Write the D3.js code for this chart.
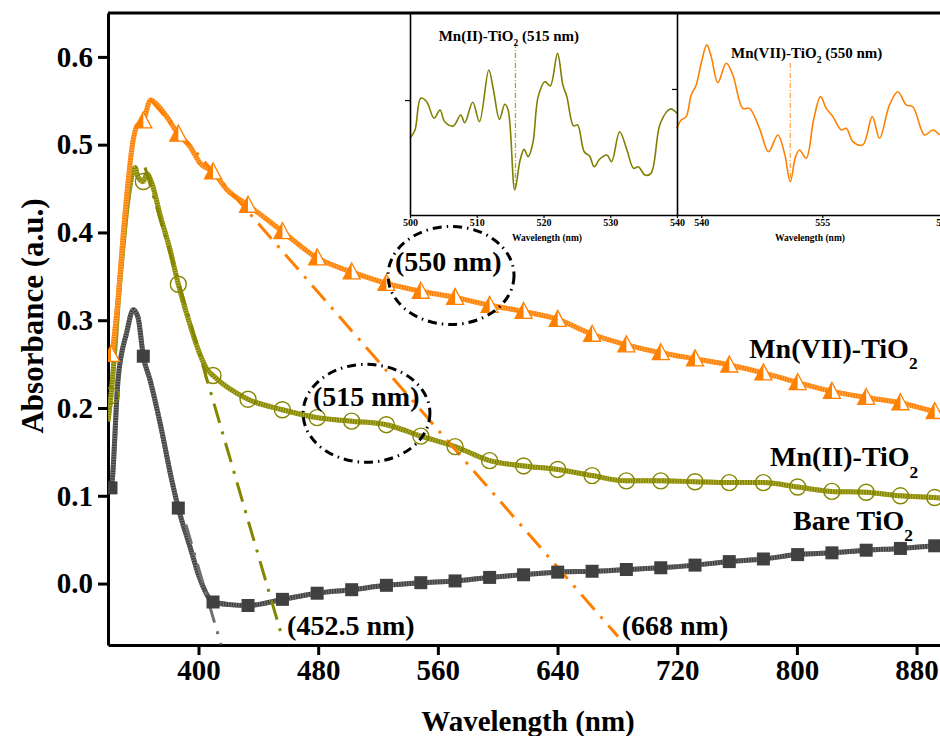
<!DOCTYPE html>
<html>
<head>
<meta charset="utf-8">
<script src="https://cdn.jsdelivr.net/npm/d3@7"></script>
<style>
  body { margin: 0; background: #fff; }
  svg { display: block; }
  text { font-family: "Liberation Serif", "Times New Roman", serif; font-weight: bold; fill: #000; }
</style>
</head>
<body>
<svg id="chart" width="940" height="736"></svg>
<script>
// ---------------- main spectra (wavelength in nm, absorbance in a.u.) ----------------
const markWl = [341.5, 363.1, 386.5, 409.7, 433.1, 456.1, 479.3, 502.4, 525.6, 548.6, 571.5, 594.6, 617.3,
  640.1, 663.1, 686.0, 709.0, 731.9, 754.8, 777.6, 800.5, 823.4, 846.3, 869.2, 892.1];

const bareWl = [339.5, 341.5, 346.2, 352.0, 356.4, 359.6, 363.1, 367.6, 374.3, 382.1, 386.5, 394.3, 401.0, 407.7,
  409.7, 421.1, 433.1, 456.1, 479.3, 502.4, 525.6, 548.6, 571.5, 594.6, 617.3, 640.1, 663.1, 686.0, 709.0, 731.9,
  754.8, 777.6, 800.5, 823.4, 846.3, 869.2, 892.1, 900];
const bareAbs = [0.109, 0.109, 0.232, 0.286, 0.312, 0.303, 0.259, 0.232, 0.183, 0.118, 0.086, 0.042, 0.005, -0.018,
  -0.021, -0.024, -0.025, -0.018, -0.011, -0.007, -0.002, 0.001, 0.003, 0.007, 0.010, 0.013, 0.014, 0.016, 0.018, 0.021,
  0.025, 0.028, 0.033, 0.035, 0.038, 0.040, 0.043, 0.044];

const mn2Wl = [339.5, 341.5, 347.5, 353.1, 357.6, 359.6, 363.1, 365.4, 369.0, 374.3, 381.0, 386.5, 394.3, 401.0,
  405.7, 409.7, 433.1, 456.1, 479.3, 502.4, 525.6, 548.6, 571.5, 594.6, 617.3, 640.1, 663.1, 686.0, 709.0, 731.9,
  754.8, 777.6, 800.5, 823.4, 846.3, 869.2, 892.1, 900];
const mn2Abs = [0.185, 0.214, 0.346, 0.441, 0.474, 0.463, 0.458, 0.467, 0.455, 0.420, 0.380, 0.341, 0.295, 0.261,
  0.244, 0.237, 0.210, 0.198, 0.189, 0.185, 0.181, 0.168, 0.156, 0.140, 0.134, 0.130, 0.123, 0.117, 0.117, 0.116,
  0.115, 0.115, 0.110, 0.105, 0.104, 0.100, 0.098, 0.097];

const mn7Wl = [339.5, 341.5, 345.3, 350.9, 356.4, 358.7, 363.1, 368.0, 372.1, 378.7, 386.5, 394.3, 401.0, 409.7,
  418.9, 433.1, 445.6, 456.1, 479.3, 502.4, 525.6, 548.6, 571.5, 594.6, 617.3, 640.1, 663.1, 686.0, 709.0, 731.9,
  754.8, 777.6, 800.5, 823.4, 846.3, 869.2, 892.1, 900];
const mn7Abs = [0.266, 0.261, 0.308, 0.422, 0.506, 0.521, 0.527, 0.551, 0.546, 0.532, 0.512, 0.498, 0.479, 0.469,
  0.449, 0.431, 0.415, 0.401, 0.371, 0.355, 0.342, 0.333, 0.326, 0.317, 0.310, 0.301, 0.284, 0.272, 0.263, 0.256,
  0.249, 0.240, 0.229, 0.219, 0.212, 0.206, 0.196, 0.193];

// band-edge tangents: [wavelength, absorbance] end points
const mn7Tangent = [[368.0, 0.551], [680.4, -0.0604]];
const mn2Tangent = [[364.3, 0.474], [455.8, -0.0604]];
const bareTangent = [[391.6, 0.067], [415.0, -0.0695]];

const xTicks = [400, 480, 560, 640, 720, 800, 880];
const yTicks = [0.0, 0.1, 0.2, 0.3, 0.4, 0.5, 0.6];

// ---------------- zoomed spectra (arbitrary units) ----------------
const zoom2Wl = [500.0, 500.75, 501.6, 502.5, 503.6, 504.5, 505.2, 506.5, 507.6, 508.2, 509.4, 510.4, 511.8, 512.5,
  513.4, 514.2, 514.7, 515.7, 516.5, 517.1, 517.7, 518.4, 519.2, 520.2, 521.0, 522.1, 522.9, 523.5, 524.5, 525.1,
  526.1, 526.9, 527.6, 528.4, 529.5, 530.2, 531.4, 532.5, 533.5, 534.2, 535.2, 536.1, 537.5, 539.0, 540.0];
const zoom2Int = [0.380, 0.421, 0.578, 0.561, 0.479, 0.520, 0.462, 0.441, 0.495, 0.457, 0.558, 0.462, 0.718, 0.619,
  0.474, 0.548, 0.520, 0.124, 0.272, 0.325, 0.289, 0.355, 0.586, 0.660, 0.639, 0.800, 0.644, 0.586, 0.441, 0.446,
  0.313, 0.292, 0.239, 0.276, 0.297, 0.264, 0.412, 0.322, 0.231, 0.239, 0.198, 0.206, 0.454, 0.525, 0.503];

const zoom7Wl = [536.98, 537.52, 538.14, 538.76, 539.38, 540.0, 540.69, 541.24, 542.06, 543.10, 543.92, 545.15,
  545.98, 547.22, 548.34, 549.49, 550.32, 551.03, 551.69, 552.18, 553.01, 553.92, 554.78, 555.49, 556.31, 557.35,
  557.97, 558.79, 560.02, 561.19, 562.09, 563.33, 564.36, 565.40, 566.22, 567.67, 568.70, 569.53];
const zoom7Int = [0.429, 0.470, 0.487, 0.594, 0.644, 0.751, 0.842, 0.784, 0.655, 0.751, 0.693, 0.528,
  0.528, 0.429, 0.313, 0.396, 0.305, 0.165, 0.289, 0.322, 0.281, 0.470, 0.586, 0.528, 0.487, 0.421,
  0.429, 0.363, 0.347, 0.487, 0.380, 0.545, 0.610, 0.545, 0.536, 0.396, 0.421, 0.396];

const zoom2Ticks = [500, 510, 520, 530, 540];
const zoom7Ticks = [540, 555, 570];

// ---------------- colours ----------------
const cBare = "#404040", cMn2 = "#858500", cMn7 = "#ff8000";

const svg = d3.select("#chart");

// ---------------- main scales and axes ----------------
const x = d3.scaleLinear().domain([339.5, 900]).range([108, 946.5]);
const y = d3.scaleLinear().domain([-0.07, 0.65]).range([645, 13]);

const xAxis = svg.append("g").attr("transform", "translate(0,645)")
  .call(d3.axisBottom(x).tickValues(xTicks).tickFormat(d3.format("d")).tickSize(10).tickSizeOuter(0).tickPadding(4));
const yAxis = svg.append("g").attr("transform", "translate(108,0)")
  .call(d3.axisLeft(y).tickValues(yTicks).tickFormat(d3.format(".1f")).tickSize(10).tickSizeOuter(0).tickPadding(5));
[xAxis, yAxis].forEach(a => {
  a.select(".domain").attr("stroke", "#000").attr("stroke-width", 3);
  a.selectAll(".tick line").attr("stroke", "#000").attr("stroke-width", 3);
  a.selectAll(".tick text").attr("font-size", 29).attr("fill", "#000")
    .style("font-family", '"Liberation Serif", serif').style("font-weight", "bold");
});
// upper frame edge
svg.append("line").attr("x1", x.range()[0]).attr("x2", x.range()[1])
  .attr("y1", y.range()[1]).attr("y2", y.range()[1]).attr("stroke", "#000").attr("stroke-width", 3);

svg.append("text").attr("x", 528).attr("y", 731).attr("text-anchor", "middle")
  .attr("font-size", 29).text("Wavelength (nm)");
svg.append("text").attr("transform", "translate(43,316) rotate(-90)").attr("text-anchor", "middle")
  .attr("font-size", 31).text("Absorbance (a.u.)");

// ---------------- spectra ----------------
svg.append("clipPath").attr("id", "plotClip").append("rect")
  .attr("x", 108).attr("y", 13).attr("width", 840).attr("height", 632);
const plot = svg.append("g").attr("clip-path", "url(#plotClip)");

const toPts = (wl, ab) => wl.map((w, i) => ({ w, a: ab[i] }));
const line = d3.line().x(d => x(d.w)).y(d => y(d.a)).curve(d3.curveMonotoneX);

function drawSpectrum(pts, color, tint) {
  plot.append("path").datum(pts).attr("d", line).attr("fill", "none")
    .attr("stroke", color).attr("stroke-width", 5).attr("stroke-linejoin", "round");
  plot.append("path").datum(pts).attr("d", line).attr("fill", "none")
    .attr("stroke", tint).attr("stroke-width", 5).attr("stroke-dasharray", "1,1.6");
}

const barePts = toPts(bareWl, bareAbs);
const mn2Pts = toPts(mn2Wl, mn2Abs);
const mn7Pts = toPts(mn7Wl, mn7Abs);

drawSpectrum(barePts, cBare, "#7a7a7a");
drawSpectrum(mn2Pts, cMn2, "#b4b440");
drawSpectrum(mn7Pts, cMn7, "#ffaa55");

// tangent lines
const tanLine = d3.line().x(d => x(d[0])).y(d => y(d[1]));
[[bareTangent, "#707070"], [mn2Tangent, "#858500"], [mn7Tangent, "#ff8000"]].forEach(([t, c]) => {
  plot.append("path").attr("d", tanLine(t)).attr("fill", "none").attr("stroke", c)
    .attr("stroke-width", 3).attr("stroke-dasharray", "20,9,3,9");
});

// markers
const isMark = d => markWl.includes(d.w);
plot.selectAll(".sq").data(barePts.filter(isMark)).join("rect")
  .attr("x", d => x(d.w) - 6.5).attr("y", d => y(d.a) - 6.5)
  .attr("width", 13).attr("height", 13).attr("fill", cBare);
plot.selectAll(".ci").data(mn2Pts.filter(isMark)).join("circle")
  .attr("cx", d => x(d.w)).attr("cy", d => y(d.a)).attr("r", 8)
  .attr("fill", "none").attr("stroke", cMn2).attr("stroke-width", 1.4);
const tri = plot.selectAll(".tr").data(mn7Pts.filter(isMark)).join("g")
  .attr("transform", d => `translate(${x(d.w)},${y(d.a)})`);
tri.append("path").attr("d", "M0,-9L8.5,7L-8.5,7Z").attr("fill", "#fff")
  .attr("stroke", cMn7).attr("stroke-width", 1.3);
tri.append("path").attr("d", "M0,-9L0,7L-8.5,7Z").attr("fill", cMn7);

// ---------------- annotations ----------------
const rings = [
  { w: 568.8, a: 0.351, rw: 42.1, ra: 0.0558 },
  { w: 512.3, a: 0.194, rw: 42.4, ra: 0.0558 }
];
rings.forEach(r => {
  svg.append("ellipse").attr("cx", x(r.w)).attr("cy", y(r.a))
    .attr("rx", x(r.w + r.rw) - x(r.w)).attr("ry", y(r.a) - y(r.a + r.ra))
    .attr("fill", "none").attr("stroke", "#000").attr("stroke-width", 3)
    .attr("stroke-dasharray", "9,5,1.5,5");
});

function label(w, a, parts, size) {
  const t = svg.append("text").attr("x", x(w)).attr("y", y(a)).attr("font-size", size);
  parts.forEach(p => {
    if (p.sub) {
      t.append("tspan").attr("font-size", size * 0.62).attr("dy", size * 0.42).text(p.t);
    } else {
      t.append("tspan").text(p.t);
    }
  });
}
label(531.3, 0.3566, [{ t: "(550 nm)" }], 28);
label(476.5, 0.2028, [{ t: "(515 nm)" }], 28);
label(459.2, -0.0581, [{ t: "(452.5 nm)" }], 28);
label(682.9, -0.0581, [{ t: "(668 nm)" }], 28);
label(768.1, 0.2575, [{ t: "Mn(VII)-TiO" }, { t: "2", sub: true }], 28);
label(782.1, 0.1336, [{ t: "Mn(II)-TiO" }, { t: "2", sub: true }], 28);
label(797.4, 0.0615, [{ t: "Bare TiO" }, { t: "2", sub: true }], 28);

// ---------------- zoomed insets ----------------
const yi = d3.scaleLinear().domain([0, 1]).range([215, 13]);
const xi2 = d3.scaleLinear().domain([500, 540]).range([410, 677]);
const xi7 = d3.scaleLinear().domain([537, 572]).range([677, 959.5]);

function inset(xs, wl, val, color, ticks, yTick, markW, markTop, markBot, titleW, titleA, title) {
  const g = svg.append("g");
  const pts = wl.map((w, i) => [xs(w), yi(val[i])]);
  g.append("path").attr("d", d3.line().curve(d3.curveCatmullRom.alpha(0.5))(pts))
    .attr("fill", "none").attr("stroke", color).attr("stroke-width", 1.6);
  g.append("line").attr("x1", xs(markW)).attr("x2", xs(markW))
    .attr("y1", yi(markTop)).attr("y2", yi(markBot))
    .attr("stroke", color).attr("stroke-opacity", 0.7).attr("stroke-width", 1.3)
    .attr("stroke-dasharray", "5,2,1,2");
  const ax = g.append("g").attr("transform", "translate(0,215)")
    .call(d3.axisBottom(xs).tickValues(ticks).tickFormat(d3.format("d")).tickSize(3).tickSizeOuter(0).tickPadding(1));
  const ay = g.append("g").attr("transform", `translate(${xs.range()[0]},0)`)
    .call(d3.axisLeft(yi).tickValues([yTick]).tickFormat("").tickSize(5).tickSizeOuter(0));
  [ax, ay].forEach(a => {
    a.select(".domain").attr("stroke", "#000").attr("stroke-width", 1.6);
    a.selectAll(".tick line").attr("stroke", "#000").attr("stroke-width", 1.2);
    a.selectAll(".tick text").attr("font-size", 10).attr("fill", "#000")
      .style("font-family", '"Liberation Serif", serif').style("font-weight", "bold");
  });
  g.append("text").attr("x", xs(titleW)).attr("y", yi(titleA)).attr("font-size", 15)
    .call(t => {
      t.append("tspan").text(title[0]);
      t.append("tspan").attr("font-size", 9.5).attr("dy", 5).text("2");
      t.append("tspan").attr("dy", -5).text(title[1]);
    });
  return g;
}
inset(xi2, zoom2Wl, zoom2Int, "#7f7f00", zoom2Ticks, 0.569, 515.8, 0.851, 0.124, 504.3, 0.861, ["Mn(II)-TiO", " (515 nm)"]);
inset(xi7, zoom7Wl, zoom7Int, "#ff8000", zoom7Ticks, 0.624, 551.03, 0.752, 0.163, 543.7, 0.777, ["Mn(VII)-TiO", " (550 nm)"]);

svg.append("text").attr("x", 547).attr("y", 241).attr("text-anchor", "middle").attr("font-size", 9.5).text("Wavelength (nm)");
svg.append("text").attr("x", 810).attr("y", 241).attr("text-anchor", "middle").attr("font-size", 9.5).text("Wavelength (nm)");
</script>
</body>
</html>
